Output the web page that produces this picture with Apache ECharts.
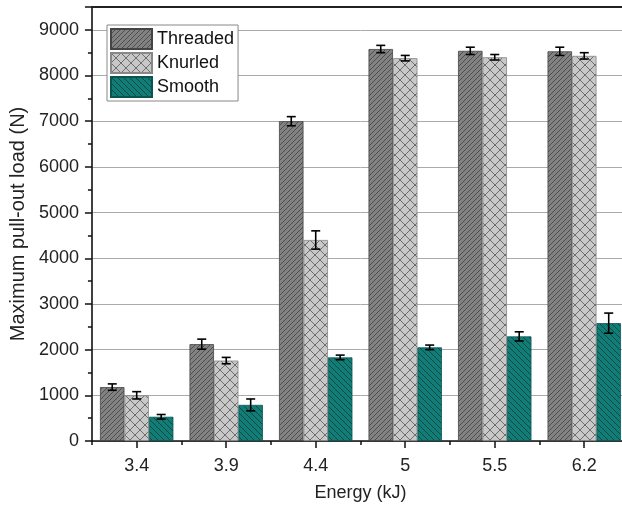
<!DOCTYPE html>
<html><head><meta charset="utf-8">
<script src="https://cdn.jsdelivr.net/npm/echarts@6/dist/echarts.min.js"></script>
<style>html,body{margin:0;padding:0;background:#fff;overflow:hidden;width:622px;height:508px}#c{width:700px;height:508px}</style>
</head><body><div id="c"></div>
<script>
const categories = ['3.4','3.9','4.4','5','5.5','6.2'];
const threaded = [1180, 2120, 7000, 8580, 8540, 8530];
const threadedErr = [70, 110, 100, 80, 80, 90];
const knurled = [1000, 1760, 4400, 8380, 8400, 8430];
const knurledErr = [80, 70, 200, 60, 60, 70];
const smooth = [530, 790, 1830, 2050, 2290, 2580];
const smoothErr = [50, 130, 50, 50, 100, 220];
const seriesNames = ['Threaded','Knurled','Smooth'];

function makePattern(bg, fg, size, mode, lw){
  const c = document.createElement('canvas');
  c.width = size; c.height = size;
  const g = c.getContext('2d');
  g.fillStyle = bg; g.fillRect(0,0,size,size);
  g.strokeStyle = fg; g.lineWidth = lw;
  const diag = (a) => {
    g.beginPath();
    for (let k=-1;k<=1;k++){
      if (a===1){ g.moveTo(k*size, size); g.lineTo(k*size+size, 0); }
      else { g.moveTo(k*size, 0); g.lineTo(k*size+size, size); }
    }
    g.stroke();
  };
  if (mode==='fwd') diag(1);
  else if (mode==='back') diag(-1);
  else { diag(1); diag(-1); }
  return {image: c, repeat: 'repeat'};
}
const pThreaded = makePattern('#828282', '#4d4d4d', 5, 'fwd', 1);
const pKnurled = makePattern('#c8c8c8', '#6e6e6e', 10, 'cross', 1);
const pSmooth = makePattern('#117d76', '#0a4a45', 6, 'back', 1);

const gap = 0.18;
function errSeries(vals, errs, idx){
  return {
    type: 'custom', name: seriesNames[idx] + ' err', xAxisIndex: 0, yAxisIndex: 0, z: 10,
    silent: true,
    data: vals.map((v,i)=>[i, v, errs[i]]),
    renderItem: function(params, api){
      const i = api.value(0), v = api.value(1), e = api.value(2);
      const band = api.size([1,0])[0];
      const bw = band*(1-gap)/3;
      const off = (idx-1)*bw;
      const top = api.coord([i, v+e]);
      const bot = api.coord([i, v-e]);
      const x = top[0] + off;
      const cw = 4.5;
      const st = {stroke:'#000', lineWidth:1.6};
      return {type:'group', children:[
        {type:'line', shape:{x1:x,y1:top[1],x2:x,y2:bot[1]}, style:st},
        {type:'line', shape:{x1:x-cw,y1:top[1],x2:x+cw,y2:top[1]}, style:st},
        {type:'line', shape:{x1:x-cw,y1:bot[1],x2:x+cw,y2:bot[1]}, style:st}
      ]};
    }
  };
}

const font = 'Liberation Sans, Arial, sans-serif';
const chart = echarts.init(document.getElementById('c'), null, {renderer:'canvas'});
chart.setOption({
  animation: false,
  backgroundColor: '#fff',
  grid: {left: 90, top: 7, width: 539, height: 434, show: false},
  legend: {
    data: seriesNames.map(n => ({name: n, icon: 'rect'})), orient: 'vertical', left: 107, top: 25,
    itemWidth: 41, itemHeight: 20, itemGap: 2, padding: [3, 4, 3, 3],
    borderColor: '#888', borderWidth: 1, backgroundColor: '#fff',
    textStyle: {fontFamily: font, fontSize: 18, color: '#111'}
  },
  xAxis: [{
    type: 'category', data: categories, position: 'bottom',
    axisLine: {show: true, lineStyle: {color: '#111', width: 1.6}},
    axisTick: {show: true, alignWithLabel: false, interval: 0, length: 4, inside: false, lineStyle:{color:'#111', width:1.5}},
    axisLabel: {show: false},
    name: 'Energy (kJ)', nameLocation: 'middle', nameGap: 43,
    nameTextStyle: {fontFamily: font, fontSize: 18, color: '#222', verticalAlign: 'top'}
  },{
    type: 'category', data: categories, position: 'bottom',
    axisLine: {show: false},
    axisTick: {show: true, alignWithLabel: true, interval: 0, length: 7, lineStyle:{color:'#111', width:1.5}},
    axisLabel: {fontFamily: font, fontSize: 18, color: '#222', margin: 16}
  },{
    type: 'category', data: categories, position: 'top',
    axisLine: {show: true, lineStyle: {color: '#222', width: 2}},
    axisTick: {show: false}, axisLabel: {show: false}
  }],
  yAxis: {
    type: 'value', min: 0, max: 9500, interval: 1000,
    axisLine: {show: true, lineStyle: {color: '#111', width: 1.6}},
    axisTick: {show: true, length: 7, lineStyle:{color:'#111', width:1.5}},
    minorTick: {show: true, splitNumber: 2, length: 4, lineStyle:{color:'#111', width:1.5}},
    splitLine: {show: true, lineStyle: {color: '#aaa', width: 1}},
    axisLabel: {fontFamily: font, fontSize: 18, color: '#222', margin: 13,
      formatter: v => (v % 1000 === 0 && v <= 9000) ? String(v) : ''},
    name: 'Maximum pull-out load (N)', nameLocation: 'middle', nameGap: 57, nameRotate: 90,
    nameTextStyle: {fontFamily: font, fontSize: 20, color: '#222'}
  },
  series: [
    {type:'bar', name:'Threaded', data: threaded, barGap: '0%', barCategoryGap: '18%',
      itemStyle:{color:pThreaded, borderColor:'#444', borderWidth:0.8}},
    {type:'bar', name:'Knurled', data: knurled, barGap: '0%', barCategoryGap: '18%',
      itemStyle:{color:pKnurled, borderColor:'#888', borderWidth:0.8}},
    {type:'bar', name:'Smooth', data: smooth, barGap: '0%', barCategoryGap: '18%',
      itemStyle:{color:pSmooth, borderColor:'#0a5550', borderWidth:0.8}},
    errSeries(threaded, threadedErr, 0),
    errSeries(knurled, knurledErr, 1),
    errSeries(smooth, smoothErr, 2)
  ]
});
</script></body></html>
